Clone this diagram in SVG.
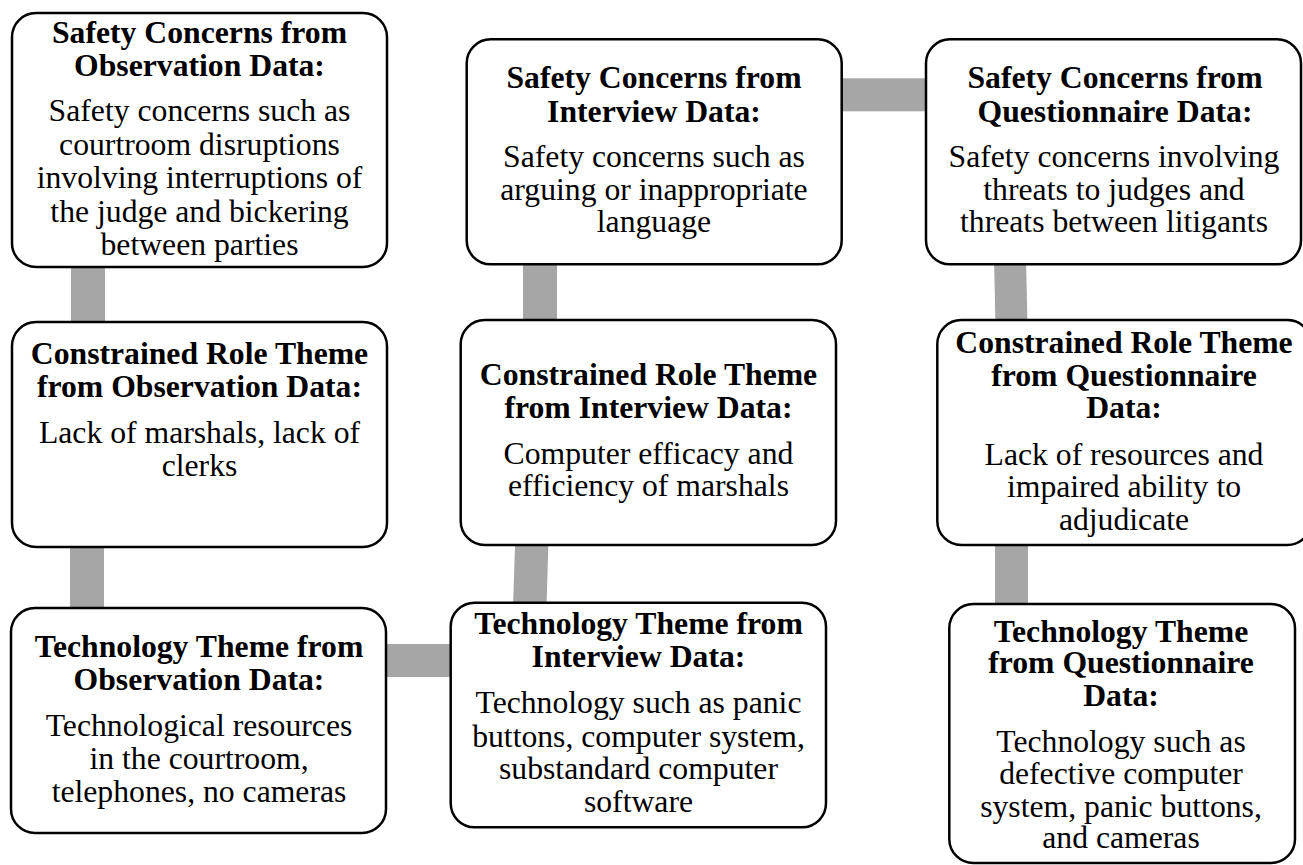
<svg xmlns="http://www.w3.org/2000/svg" width="1303" height="865" viewBox="0 0 1303 865">
<style>
.box{fill:#fff;stroke:#000;stroke-width:2.5}
.bar{fill:#a6a6a6}
text{font-family:"Liberation Serif","Times New Roman",serif;font-size:31.7px;fill:#000;text-anchor:middle}
.t{font-weight:bold}
</style>
<rect width="1303" height="865" fill="#fff"/>
<g id="connectors">
<rect class="bar" x="71" y="260" width="34" height="70"/>
<rect class="bar" x="70" y="540" width="34" height="75"/>
<rect class="bar" x="380" y="644" width="78" height="33"/>
<polygon class="bar" points="515.2,540 548.5,540 546.5,608 513,608"/>
<rect class="bar" x="523" y="258" width="34" height="68"/>
<rect class="bar" x="835" y="78.3" width="97" height="33"/>
<polygon class="bar" points="994,258 1026,258 1027.5,326 995.5,326"/>
<rect class="bar" x="995" y="540" width="33" height="70"/>
</g>
<g id="obs-safety">
<rect class="box" x="12" y="13" width="375" height="254" rx="24"/>
<text class="t" x="199.5" y="43">Safety Concerns from</text>
<text class="t" x="199.5" y="76">Observation Data:</text>
<text x="199.5" y="121">Safety concerns such as</text>
<text x="199.5" y="155">courtroom disruptions</text>
<text x="199.5" y="188">involving interruptions of</text>
<text x="199.5" y="222">the judge and bickering</text>
<text x="199.5" y="255">between parties</text>
</g>
<g id="obs-role">
<rect class="box" x="12" y="322" width="375" height="225" rx="24"/>
<text class="t" x="199.5" y="364">Constrained Role Theme</text>
<text class="t" x="199.5" y="397">from Observation Data:</text>
<text x="199.5" y="443">Lack of marshals, lack of</text>
<text x="199.5" y="476">clerks</text>
</g>
<g id="obs-tech">
<rect class="box" x="11" y="608" width="375" height="225" rx="24"/>
<text class="t" x="199" y="657">Technology Theme from</text>
<text class="t" x="199" y="690">Observation Data:</text>
<text x="199" y="736">Technological resources</text>
<text x="199" y="769">in the courtroom,</text>
<text x="199" y="802">telephones, no cameras</text>
</g>
<g id="int-safety">
<rect class="box" x="466.7" y="39.3" width="375" height="225" rx="24"/>
<text class="t" x="654" y="88">Safety Concerns from</text>
<text class="t" x="654" y="121.5">Interview Data:</text>
<text x="654" y="167">Safety concerns such as</text>
<text x="654" y="200">arguing or inappropriate</text>
<text x="654" y="232">language</text>
</g>
<g id="int-role">
<rect class="box" x="460.7" y="320" width="375.3" height="225" rx="24"/>
<text class="t" x="648.5" y="385">Constrained Role Theme</text>
<text class="t" x="648.5" y="418">from Interview Data:</text>
<text x="648.5" y="464">Computer efficacy and</text>
<text x="648.5" y="496">efficiency of marshals</text>
</g>
<g id="int-tech">
<rect class="box" x="450.7" y="602.7" width="375.3" height="224.6" rx="24"/>
<text class="t" x="638.5" y="634">Technology Theme from</text>
<text class="t" x="638.5" y="667">Interview Data:</text>
<text x="638.5" y="713">Technology such as panic</text>
<text x="638.5" y="746.5">buttons, computer system,</text>
<text x="638.5" y="779">substandard computer</text>
<text x="638.5" y="812">software</text>
</g>
<g id="q-safety">
<rect class="box" x="926" y="39.3" width="375" height="225" rx="24"/>
<text class="t" x="1115" y="88">Safety Concerns from</text>
<text class="t" x="1115" y="121.5">Questionnaire Data:</text>
<text x="1114" y="167">Safety concerns involving</text>
<text x="1114" y="200">threats to judges and</text>
<text x="1114" y="232">threats between litigants</text>
</g>
<g id="q-role">
<rect class="box" x="937.3" y="320" width="374" height="225" rx="24"/>
<text class="t" x="1124" y="353">Constrained Role Theme</text>
<text class="t" x="1124" y="386">from Questionnaire</text>
<text class="t" x="1124" y="418">Data:</text>
<text x="1124" y="465">Lack of resources and</text>
<text x="1124" y="497">impaired ability to</text>
<text x="1124" y="530">adjudicate</text>
</g>
<g id="q-tech">
<rect class="box" x="949.3" y="604" width="345.7" height="259" rx="24"/>
<text class="t" x="1121" y="642">Technology Theme</text>
<text class="t" x="1121" y="673">from Questionnaire</text>
<text class="t" x="1121" y="706">Data:</text>
<text x="1121" y="752">Technology such as</text>
<text x="1121" y="784">defective computer</text>
<text x="1121" y="817">system, panic buttons,</text>
<text x="1121" y="848">and cameras</text>
</g>
</svg>
